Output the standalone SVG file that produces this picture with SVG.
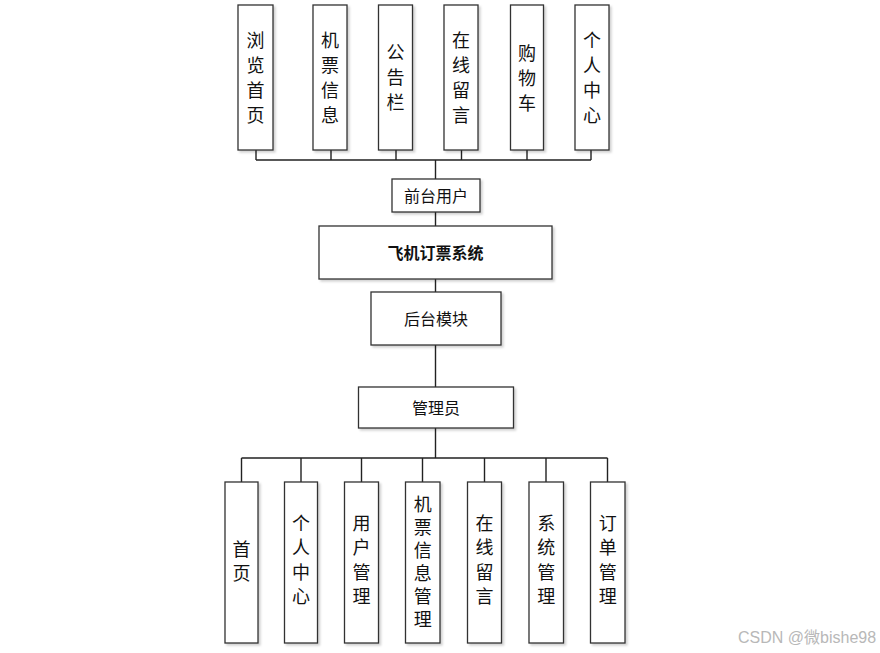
<svg xmlns="http://www.w3.org/2000/svg" width="880" height="653" viewBox="0 0 880 653">
<defs>
<filter id="sh" x="-10%" y="-10%" width="130%" height="130%">
<feDropShadow dx="2" dy="2" stdDeviation="1" flood-color="#000" flood-opacity="0.18"/>
</filter>
<style>
.box{fill:#fff;stroke:#333;stroke-width:1.3;filter:url(#sh)}
.t{font-family:"Liberation Sans","Noto Sans CJK SC",sans-serif;font-size:18px;fill:#111;text-anchor:middle;dominant-baseline:central}
.h{font-family:"Liberation Sans","Noto Sans CJK SC",sans-serif;font-size:16px;fill:#111;text-anchor:middle;dominant-baseline:central}
.c{fill:none;stroke:#222;stroke-width:1.4}
.wm{font-family:"Liberation Sans","Noto Sans CJK SC",sans-serif;font-size:16px;fill:#b8b8b8}
</style>
</defs>
<rect width="880" height="653" fill="#fff"/>
<g id="connectors">
<path class="c" d="M256 150V160M331 150V160M396 150V160M461.5 150V160M527 150V160M591 150V160M256 160H591M435.5 160V179M435.5 212V226M435.5 279V292M435.5 345V387M435.5 428V458M241.5 458H607.5M241.5 458V482M301 458V482M361.5 458V482M422.5 458V482M484.5 458V482M546 458V482M607.5 458V482"/>
</g>
<g id="n-browse"><rect class="box" x="238" y="5" width="35" height="145"/><text class="t"><tspan x="255.5" y="41">浏</tspan><tspan x="255.5" y="66">览</tspan><tspan x="255.5" y="91">首</tspan><tspan x="255.5" y="116">页</tspan></text></g>
<g id="n-ticketinfo"><rect class="box" x="313" y="5" width="34" height="145"/><text class="t"><tspan x="330" y="41">机</tspan><tspan x="330" y="66">票</tspan><tspan x="330" y="91">信</tspan><tspan x="330" y="116">息</tspan></text></g>
<g id="n-notice"><rect class="box" x="378.5" y="5" width="34" height="145"/><text class="t"><tspan x="395.5" y="53">公</tspan><tspan x="395.5" y="78">告</tspan><tspan x="395.5" y="103">栏</tspan></text></g>
<g id="n-message"><rect class="box" x="444" y="5" width="34" height="145"/><text class="t"><tspan x="461" y="41">在</tspan><tspan x="461" y="66">线</tspan><tspan x="461" y="91">留</tspan><tspan x="461" y="116">言</tspan></text></g>
<g id="n-cart"><rect class="box" x="510.5" y="5" width="33" height="145"/><text class="t"><tspan x="527" y="54">购</tspan><tspan x="527" y="79">物</tspan><tspan x="527" y="104">车</tspan></text></g>
<g id="n-personal"><rect class="box" x="575" y="5" width="34" height="145"/><text class="t"><tspan x="592" y="41">个</tspan><tspan x="592" y="66">人</tspan><tspan x="592" y="91">中</tspan><tspan x="592" y="116">心</tspan></text></g>
<g id="n-frontuser"><rect class="box" x="392" y="179" width="88" height="33"/><text class="h" x="436" y="196">前台用户</text></g>
<g id="n-system"><rect class="box" x="319" y="226" width="233" height="53"/><text class="h" x="435.5" y="253" font-weight="bold">飞机订票系统</text></g>
<g id="n-backend"><rect class="box" x="371" y="292" width="130" height="53"/><text class="h" x="436" y="319">后台模块</text></g>
<g id="n-admin"><rect class="box" x="358.5" y="387" width="155" height="41"/><text class="h" x="436" y="408">管理员</text></g>
<g id="a-home"><rect class="box" x="225" y="482" width="33" height="161"/><text class="t"><tspan x="241.5" y="550">首</tspan><tspan x="241.5" y="574">页</tspan></text></g>
<g id="a-personal"><rect class="box" x="284.5" y="482" width="33" height="161"/><text class="t"><tspan x="301" y="524">个</tspan><tspan x="301" y="548">人</tspan><tspan x="301" y="573">中</tspan><tspan x="301" y="597">心</tspan></text></g>
<g id="a-user"><rect class="box" x="344.5" y="482" width="34" height="161"/><text class="t"><tspan x="361.5" y="524">用</tspan><tspan x="361.5" y="548">户</tspan><tspan x="361.5" y="573">管</tspan><tspan x="361.5" y="597">理</tspan></text></g>
<g id="a-ticket"><rect class="box" x="405.5" y="482" width="34.5" height="161"/><text class="t"><tspan x="422.8" y="505">机</tspan><tspan x="422.8" y="528">票</tspan><tspan x="422.8" y="551">信</tspan><tspan x="422.8" y="574">息</tspan><tspan x="422.8" y="597">管</tspan><tspan x="422.8" y="620">理</tspan></text></g>
<g id="a-message"><rect class="box" x="467.5" y="482" width="34" height="161"/><text class="t"><tspan x="484.5" y="524">在</tspan><tspan x="484.5" y="548">线</tspan><tspan x="484.5" y="573">留</tspan><tspan x="484.5" y="597">言</tspan></text></g>
<g id="a-system"><rect class="box" x="529" y="482" width="34.5" height="161"/><text class="t"><tspan x="546.2" y="524">系</tspan><tspan x="546.2" y="548">统</tspan><tspan x="546.2" y="573">管</tspan><tspan x="546.2" y="597">理</tspan></text></g>
<g id="a-order"><rect class="box" x="590.5" y="482" width="34.5" height="161"/><text class="t"><tspan x="607.8" y="524">订</tspan><tspan x="607.8" y="548">单</tspan><tspan x="607.8" y="573">管</tspan><tspan x="607.8" y="597">理</tspan></text></g>
<text class="wm" x="738" y="643">CSDN @微bishe98</text>
</svg>
